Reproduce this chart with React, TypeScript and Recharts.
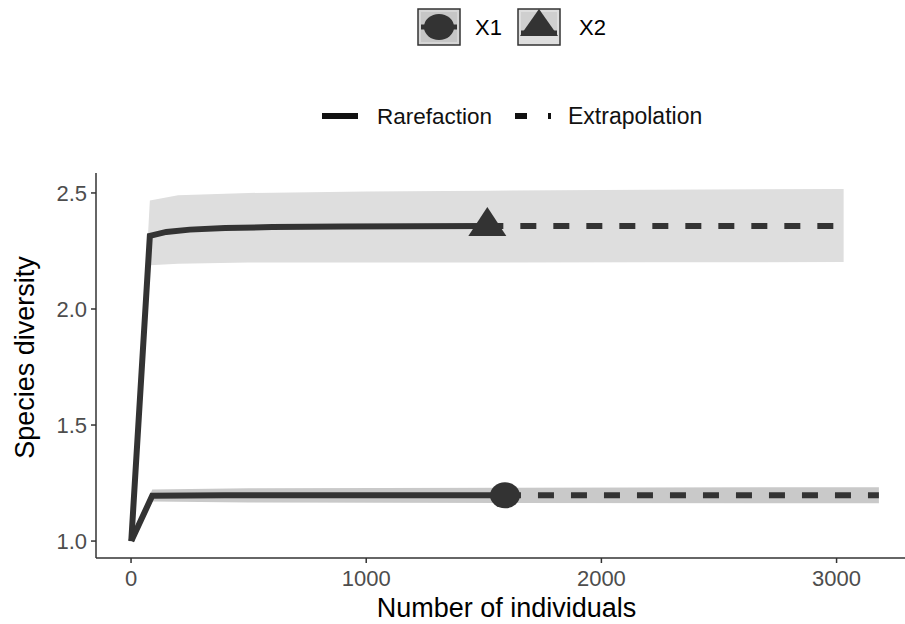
import {
  ComposedChart,
  Line,
  Area,
  Scatter,
  XAxis,
  YAxis,
  Label,
} from "recharts";

// sample sizes and estimates
const x1Rare = [
  { n: 1, v: 1.0 },
  { n: 90, v: 1.195 },
  { n: 400, v: 1.197 },
  { n: 1590, v: 1.197 },
];
const x1Extra = [
  { n: 1590, v: 1.197 },
  { n: 2400, v: 1.197 },
  { n: 3180, v: 1.197 },
];
const x1Band = [
  { n: 1, lo: 1.0, hi: 1.0 },
  { n: 90, lo: 1.17, hi: 1.222 },
  { n: 500, lo: 1.166, hi: 1.228 },
  { n: 1590, lo: 1.164, hi: 1.23 },
  { n: 3180, lo: 1.163, hi: 1.232 },
];
const x1Sample = [{ n: 1590, v: 1.197 }];

const x2Rare = [
  { n: 1, v: 1.0 },
  { n: 80, v: 2.315 },
  { n: 150, v: 2.332 },
  { n: 250, v: 2.342 },
  { n: 400, v: 2.349 },
  { n: 600, v: 2.353 },
  { n: 900, v: 2.356 },
  { n: 1200, v: 2.357 },
  { n: 1515, v: 2.358 },
];
const x2Extra = [
  { n: 1515, v: 2.358 },
  { n: 2200, v: 2.358 },
  { n: 3030, v: 2.358 },
];
const x2Band = [
  { n: 1, lo: 1.0, hi: 1.0 },
  { n: 80, lo: 2.188, hi: 2.468 },
  { n: 200, lo: 2.195, hi: 2.49 },
  { n: 500, lo: 2.2, hi: 2.5 },
  { n: 1000, lo: 2.2, hi: 2.506 },
  { n: 1515, lo: 2.2, hi: 2.51 },
  { n: 2200, lo: 2.201, hi: 2.514 },
  { n: 3030, lo: 2.202, hi: 2.517 },
];
const x2Sample = [{ n: 1515, v: 2.358 }];

const xTicks = [0, 1000, 2000, 3000];
const yTicks = [1.0, 1.5, 2.0, 2.5];

const INK = "#333333";
const FONT = "'Liberation Sans', Arial, sans-serif";

const Dot = (p: any) => <ellipse cx={p.cx} cy={p.cy} rx={15} ry={13} fill={INK} />;
const Tri = (p: any) => (
  <polygon
    points={`${p.cx - 19},${p.cy + 10} ${p.cx + 19},${p.cy + 10} ${p.cx},${p.cy - 19}`}
    fill={INK}
  />
);

function Legends() {
  return (
    <svg
      width={905}
      height={150}
      style={{ position: "absolute", left: 0, top: 0, pointerEvents: "none" }}
      fontFamily={FONT}
    >
      {/* shape legend */}
      <rect x={418} y={9} width={42} height={36} fill="#d6d6d6" stroke={INK} strokeWidth={1.5} />
      <rect x={421} y={12} width={36} height={30} fill="#c6c6c6" />
      <line x1={421} x2={457} y1={27} y2={27} stroke={INK} strokeWidth={5} />
      <ellipse cx={439} cy={27} rx={15} ry={13} fill={INK} />
      <text x={475} y={27} dominantBaseline="central" fontSize={22} fill="#000">
        X1
      </text>

      <rect x={518} y={9} width={42} height={36} fill="#dedede" stroke={INK} strokeWidth={1.5} />
      <rect x={521} y={12} width={36} height={24} fill="#cfcfcf" />
      <line x1={521} x2={557} y1={33} y2={33} stroke={INK} strokeWidth={5} />
      <polygon points="520,36 558,36 539,9" fill={INK} />
      <text x={579} y={27} dominantBaseline="central" fontSize={22} fill="#000">
        X2
      </text>

      {/* line type legend */}
      <line x1={322} x2={358} y1={116} y2={116} stroke="#111" strokeWidth={6} />
      <text x={377} y={116} dominantBaseline="central" fontSize={22.5} fill="#111">
        Rarefaction
      </text>
      <line
        x1={515}
        x2={551}
        y1={116}
        y2={116}
        stroke="#111"
        strokeWidth={6}
        strokeDasharray="12 21"
      />
      <text x={568} y={116} dominantBaseline="central" fontSize={23} fill="#111">
        Extrapolation
      </text>
    </svg>
  );
}

export default function App() {
  const tick = { fontSize: 22, fill: "#4d4d4d", fontFamily: FONT };
  return (
    <div
      style={{
        position: "absolute",
        left: 0,
        top: 0,
        width: 905,
        height: 624,
        overflow: "hidden",
        background: "#fff",
      }}
    >
      <ComposedChart
        width={920}
        height={624}
        margin={{ top: 173, right: 3, bottom: 0, left: 0 }}
      >
        <XAxis
          dataKey="n"
          type="number"
          domain={[-149, 3342]}
          ticks={xTicks}
          allowDataOverflow
          height={66}
          tick={tick}
          tickMargin={7}
          tickSize={5}
          stroke={INK}
          strokeWidth={1.5}
        >
          <Label
            value="Number of individuals"
            position="insideBottom"
            offset={7}
            style={{ fontSize: 27, fill: "#000", fontFamily: FONT }}
          />
        </XAxis>
        <YAxis
          dataKey="v"
          type="number"
          domain={[0.927, 2.586]}
          ticks={yTicks}
          tickFormatter={(v) => Number(v).toFixed(1)}
          allowDataOverflow
          width={96}
          tick={tick}
          tickMargin={4}
          tickSize={5}
          stroke={INK}
          strokeWidth={1.5}
        >
          <Label
            value="Species diversity"
            angle={-90}
            position="insideLeft"
            offset={24}
            dx={0}
            dy={-8}
            style={{ fontSize: 27, fill: "#000", fontFamily: FONT, textAnchor: "middle" }}
          />
        </YAxis>

        <Area
          data={x2Band}
          dataKey={(d: any) => [d.lo, d.hi]}
          type="linear"
          fill="#dedede"
          fillOpacity={1}
          stroke="none"
          isAnimationActive={false}
        />
        <Area
          data={x1Band}
          dataKey={(d: any) => [d.lo, d.hi]}
          type="linear"
          fill="#c9c9c9"
          fillOpacity={1}
          stroke="none"
          isAnimationActive={false}
        />

        <Line data={x2Rare} dataKey="v" type="linear" stroke={INK} strokeWidth={6} dot={false} isAnimationActive={false} />
        <Line data={x1Rare} dataKey="v" type="linear" stroke={INK} strokeWidth={6} dot={false} isAnimationActive={false} />
        <Line
          data={x2Extra}
          dataKey="v"
          type="linear"
          stroke={INK}
          strokeWidth={6}
          strokeDasharray="16 17"
          dot={false}
          isAnimationActive={false}
        />
        <Line
          data={x1Extra}
          dataKey="v"
          type="linear"
          stroke={INK}
          strokeWidth={6}
          strokeDasharray="16 17"
          dot={false}
          isAnimationActive={false}
        />

        <Scatter data={x2Sample} shape={Tri} isAnimationActive={false} />
        <Scatter data={x1Sample} shape={Dot} isAnimationActive={false} />
      </ComposedChart>
      <Legends />
    </div>
  );
}
